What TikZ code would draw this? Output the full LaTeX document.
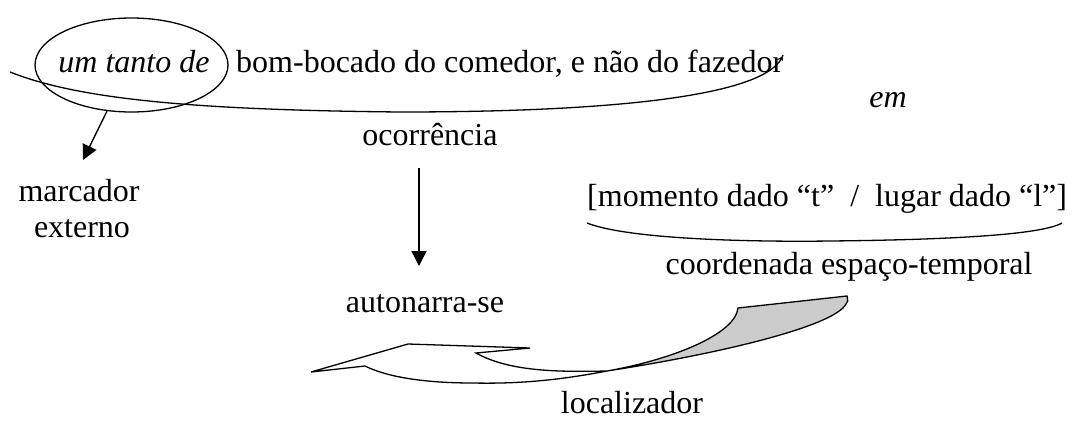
\documentclass[tikz,border=0pt]{standalone}
\usepackage{fontspec}
\setmainfont{Liberation Serif}
\usetikzlibrary{arrows.meta,shapes.geometric}
\begin{document}
\begin{tikzpicture}[x=1pt,y=-1pt,
  txt/.style={font=\fontsize{32}{37}\selectfont, inner sep=0pt, anchor=base},
  itxt/.style={font=\fontsize{32}{37}\selectfont\itshape, inner sep=0pt, anchor=base},
  ln/.style={line width=1.3pt},
  arr/.style={line width=1.4pt, -{Triangle[length=15pt,width=15pt]}}]
\useasboundingbox (0,0) rectangle (1084,421);
% ellipse round "um tanto de"
\node[ellipse, draw, ln, minimum width=193pt, minimum height=94pt, inner sep=0pt] (ell) at (131.5,65) {};
\node[itxt] (tanto) at (134,72) {um tanto de};
\node[txt, anchor=base west] (bom) at (236,72) {bom-bocado do comedor, e não do fazedor};
% long curve under the first line
\draw[ln] (10,72) .. controls (80,100) and (200,110) .. (400,112)
          .. controls (620,112) and (770,95) .. (783,55);
\node[itxt] (em) at (888,107) {em};
\node[txt] (ocor) at (430,145) {ocorrência};
\node[txt] (marc1) at (79,201) {marcador};
\node[txt] (marc2) at (82,237) {externo};
\node[txt, anchor=base west] (coord) at (587,206) {[momento dado “t”\ \ /\ \ lugar dado “l”]};
\draw[ln] (587,223) .. controls (630,240) and (760,242) .. (830,241)
          .. controls (930,240) and (1040,236) .. (1062,223);
\node[txt] (cet) at (849,274) {coordenada espaço-temporal};
\node[txt] (auto) at (425,312) {autonarra-se};
\node[txt] (loc) at (632,413) {localizador};
% arrows
\draw[arr] (ell.242) -- ([shift={(4,-41)}]marc1.base);
\draw[arr] ([shift={(-11,23)}]ocor.base) -- ([shift={(-6,-46)}]auto.base);
% curved arrow (localizador)
\fill[black!20] (607,371) .. controls (670,360) and (735,335) .. (738,308)
   -- (847,296) .. controls (848,300) and (848,303) .. (846,304)
   .. controls (835,325) and (730,352) .. (607,371) -- cycle;
\draw[ln, line join=miter] (311,372) -- (408,344) -- (530,348) -- (476,353)
   .. controls (510,372) and (560,372) .. (607,371)
   .. controls (670,360) and (735,335) .. (738,308)
   -- (847,296) .. controls (848,300) and (848,303) .. (846,304)
   .. controls (835,325) and (730,352) .. (607,371)
   .. controls (560,380) and (520,384) .. (473,383)
   .. controls (420,383) and (385,376) .. (365,366) -- cycle;
\end{tikzpicture}
\end{document}
